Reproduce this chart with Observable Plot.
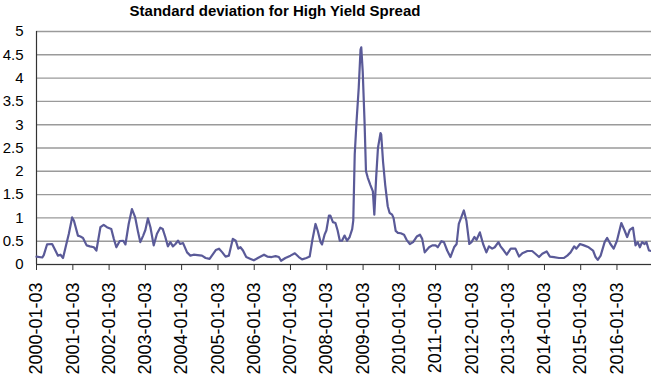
<!DOCTYPE html>
<html>
<head>
<meta charset="utf-8">
<script src="https://cdn.jsdelivr.net/npm/d3@7"></script>
<script src="https://cdn.jsdelivr.net/npm/@observablehq/plot@0.6"></script>
<style>
  html, body { margin: 0; padding: 0; background: #fff; }
  #wrap { position: relative; width: 651px; height: 377px; overflow: hidden; font-family: "Liberation Sans", Arial, Helvetica, sans-serif; }
  #title { position: absolute; left: 0; top: 2px; width: 550px; text-align: center; font-weight: bold; font-size: 15px; line-height: 18px; color: #000; }
  #chart { position: absolute; left: 0; top: 22px; }
</style>
</head>
<body>
<div id="wrap">
  <div id="title">Standard deviation for High Yield Spread</div>
  <div id="chart"></div>
</div>
<script>
const title = "Standard deviation for High Yield Spread";

// Observation times (decimal years, counted from the 01-03 of each year)
const t = [
  2000.00, 2000.16, 2000.20, 2000.29, 2000.43, 2000.52, 2000.59, 2000.66, 2000.73, 2000.80, 2000.89, 2000.98,
  2001.03, 2001.14, 2001.21, 2001.28, 2001.38, 2001.47, 2001.58, 2001.65, 2001.76, 2001.85, 2001.94,
  2002.06, 2002.13, 2002.20, 2002.29, 2002.39, 2002.45, 2002.54, 2002.63, 2002.72, 2002.80, 2002.86, 2002.94,
  2003.00, 2003.07, 2003.14, 2003.23, 2003.32, 2003.41, 2003.48, 2003.55, 2003.62, 2003.69, 2003.76, 2003.83, 2003.90, 2003.96,
  2004.04, 2004.15, 2004.24, 2004.33, 2004.44, 2004.56, 2004.66, 2004.77, 2004.94,
  2005.03, 2005.12, 2005.21, 2005.30, 2005.41, 2005.49, 2005.56, 2005.62, 2005.69, 2005.78, 2005.90, 2005.99,
  2006.10, 2006.27, 2006.36, 2006.48, 2006.59, 2006.68, 2006.74, 2006.86,
  2007.00, 2007.12, 2007.23, 2007.32, 2007.44, 2007.53, 2007.60, 2007.69, 2007.75, 2007.83, 2007.87, 2007.94, 2007.99,
  2008.06, 2008.10, 2008.17, 2008.24, 2008.30, 2008.36, 2008.42, 2008.49, 2008.56, 2008.63, 2008.70, 2008.73, 2008.77, 2008.82, 2008.88, 2008.93, 2008.95, 2008.99,
  2009.04, 2009.08, 2009.13, 2009.20, 2009.27, 2009.31, 2009.36, 2009.41, 2009.48, 2009.50, 2009.55, 2009.61, 2009.68, 2009.73, 2009.80, 2009.84, 2009.90, 2009.96,
  2010.04, 2010.13, 2010.20, 2010.29, 2010.38, 2010.48, 2010.57, 2010.63, 2010.70, 2010.82, 2010.91,
  2011.00, 2011.06, 2011.16, 2011.23, 2011.32, 2011.41, 2011.51, 2011.58, 2011.64, 2011.78, 2011.85, 2011.93, 2011.99,
  2012.07, 2012.13, 2012.22, 2012.31, 2012.40, 2012.47, 2012.56, 2012.63, 2012.73, 2012.79, 2012.88, 2012.96,
  2013.07, 2013.20, 2013.30, 2013.39, 2013.53, 2013.66, 2013.75, 2013.85, 2013.94,
  2014.06, 2014.15, 2014.26, 2014.40, 2014.54, 2014.63, 2014.72, 2014.82, 2014.88, 2014.98,
  2015.09, 2015.22, 2015.34, 2015.41, 2015.47, 2015.55, 2015.66, 2015.73, 2015.82, 2015.91,
  2016.00, 2016.12, 2016.21, 2016.28, 2016.35, 2016.44, 2016.51, 2016.57, 2016.63, 2016.69, 2016.76, 2016.81, 2016.88, 2016.95
];

// Standard deviation values
const sd = [
  0.17, 0.15, 0.20, 0.43, 0.44, 0.30, 0.19, 0.21, 0.14, 0.37, 0.66, 1.01,
  0.94, 0.62, 0.60, 0.57, 0.41, 0.39, 0.37, 0.30, 0.80, 0.85, 0.80,
  0.76, 0.55, 0.37, 0.50, 0.51, 0.43, 0.87, 1.19, 1.01, 0.69, 0.48, 0.62,
  0.74, 0.99, 0.80, 0.41, 0.66, 0.79, 0.76, 0.59, 0.39, 0.48, 0.39, 0.44, 0.51, 0.44,
  0.46, 0.26, 0.19, 0.21, 0.20, 0.19, 0.14, 0.12, 0.31,
  0.34, 0.26, 0.17, 0.19, 0.55, 0.51, 0.34, 0.37, 0.30, 0.16, 0.12, 0.09,
  0.14, 0.21, 0.17, 0.16, 0.18, 0.16, 0.08, 0.14,
  0.19, 0.24, 0.16, 0.11, 0.14, 0.17, 0.51, 0.87, 0.73, 0.48, 0.43, 0.64, 0.73,
  1.05, 1.05, 0.91, 0.89, 0.73, 0.51, 0.51, 0.62, 0.51, 0.59, 0.76, 0.94, 2.36, 3.07, 3.79, 4.61, 4.66, 4.14,
  3.07, 2.00, 1.86, 1.71, 1.57, 1.07, 1.86, 2.50, 2.82, 2.79, 2.21, 1.71, 1.25, 1.11, 1.07, 1.00, 0.72, 0.68,
  0.67, 0.64, 0.53, 0.44, 0.48, 0.60, 0.64, 0.55, 0.26, 0.37, 0.41,
  0.41, 0.37, 0.50, 0.48, 0.30, 0.16, 0.37, 0.44, 0.87, 1.16, 0.94, 0.44, 0.48,
  0.59, 0.53, 0.69, 0.44, 0.26, 0.39, 0.34, 0.37, 0.48, 0.39, 0.30, 0.21,
  0.34, 0.34, 0.17, 0.24, 0.29, 0.29, 0.23, 0.16, 0.23,
  0.28, 0.17, 0.16, 0.14, 0.14, 0.19, 0.26, 0.39, 0.34, 0.44,
  0.41, 0.37, 0.30, 0.16, 0.10, 0.19, 0.48, 0.57, 0.44, 0.34,
  0.51, 0.89, 0.73, 0.59, 0.74, 0.79, 0.41, 0.48, 0.37, 0.48, 0.44, 0.48, 0.30, 0.29
];

const xTickLabels = [
  "2000-01-03", "2001-01-03", "2002-01-03", "2003-01-03", "2004-01-03", "2005-01-03",
  "2006-01-03", "2007-01-03", "2008-01-03", "2009-01-03", "2010-01-03", "2011-01-03",
  "2012-01-03", "2013-01-03", "2014-01-03", "2015-01-03", "2016-01-03"
];
const yTicks = [0, 0.5, 1, 1.5, 2, 2.5, 3, 3.5, 4, 4.5, 5];
const xEnd = 2016.95;

function toDate(v) {
  const y = Math.floor(v);
  const a = Date.UTC(y, 0, 3), b = Date.UTC(y + 1, 0, 3);
  return new Date(a + (v - y) * (b - a));
}

const data = t.map((v, i) => ({date: toDate(v), value: sd[i]}));
const xTicks = xTickLabels.map(s => new Date(s + "T00:00:00Z"));
const xDomain = [toDate(t[0]), toDate(xEnd)];

const fontFamily = '"Liberation Sans", Arial, Helvetica, sans-serif';

const chart = Plot.plot({
  width: 651,
  height: 355,
  marginTop: 9,
  marginBottom: 113,
  marginLeft: 36,
  marginRight: 0,
  style: {fontFamily, color: "#000", background: "#fff", overflow: "visible"},
  x: {type: "utc", domain: xDomain},
  y: {domain: [0, 5]},
  marks: [
    Plot.ruleY(yTicks, {stroke: "#9a9a9a", strokeWidth: 1.4}),
    Plot.axisY({ticks: yTicks, tickSize: 0, tickPadding: 13, fontSize: 15, tickFormat: d => String(d), label: null}),
    Plot.axisX({ticks: xTicks, tickSize: 6, tickPadding: 12, tickRotate: -90, fontSize: 18, stroke: "#333",
      tickFormat: d => d.toISOString().slice(0, 10), label: null}),
    Plot.ruleX([xDomain[0]], {y1: 0, y2: 5, stroke: "#333", strokeWidth: 1.2}),
    Plot.ruleY([0], {stroke: "#333", strokeWidth: 1.2}),
    Plot.lineY(data, {x: "date", y: "value", stroke: "#5a5a98", strokeWidth: 2.2, curve: "linear"})
  ]
});
document.getElementById("chart").appendChild(chart);
</script>
</body>
</html>
